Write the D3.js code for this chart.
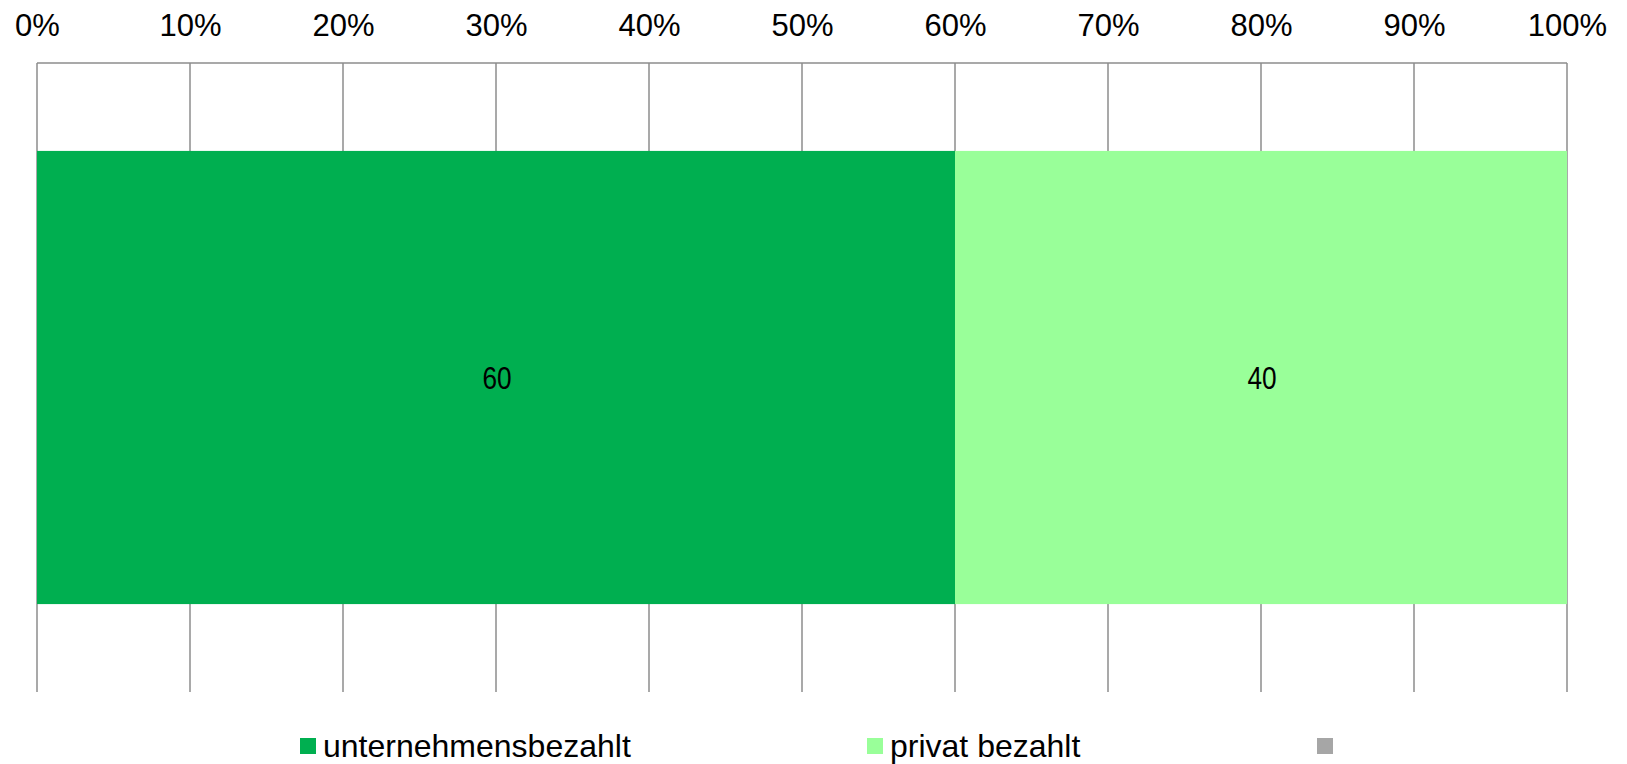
<!DOCTYPE html>
<html>
<head>
<meta charset="utf-8">
<script src="https://cdn.jsdelivr.net/npm/d3@7"></script>
<style>
  html, body { margin: 0; padding: 0; background: #ffffff; }
  svg { display: block; }
</style>
</head>
<body>
<svg id="chart" width="1627" height="764"></svg>
<script>
// ---- data ----
const categories = ["Gesamt"];
const seriesNames = ["unternehmensbezahlt", "privat bezahlt", ""];
const seriesValues = [60, 40, 0];
const seriesColors = ["#00AF50", "#99FF99", "#A6A6A6"];
const tickValues = [0, 10, 20, 30, 40, 50, 60, 70, 80, 90, 100];
const tickLabels = ["0%", "10%", "20%", "30%", "40%", "50%", "60%", "70%", "80%", "90%", "100%"];

// ---- layout ----
const W = 1627, H = 764;
const plot = { left: 37, right: 1567, top: 63, bottom: 692 };
const legendX = [300, 867, 1317];
const legendY = 738;

const svg = d3.select("#chart");

const x = d3.scaleLinear().domain([0, 100]).range([plot.left, plot.right]);
const y = d3.scaleBand().domain(categories).range([plot.top, plot.bottom])
  .paddingInner(0).paddingOuter(0.194);

// gridlines
const gridColor = "#8C8C8C";
svg.append("g").selectAll("line").data(tickValues).join("line")
  .attr("x1", d => x(d)).attr("x2", d => x(d))
  .attr("y1", plot.top).attr("y2", plot.bottom)
  .attr("stroke", gridColor).attr("stroke-width", 1.5);
svg.append("line")
  .attr("x1", x(0)).attr("x2", x(100))
  .attr("y1", plot.top).attr("y2", plot.top)
  .attr("stroke", gridColor).attr("stroke-width", 1.5);

// stacked data
const stackData = categories.map(c => {
  const row = { cat: c };
  seriesNames.forEach((s, i) => row["s" + i] = seriesValues[i]);
  return row;
});
const keys = seriesNames.map((s, i) => "s" + i);
const stacked = d3.stack().keys(keys)(stackData);

const groups = svg.append("g").selectAll("g").data(stacked).join("g")
  .attr("fill", (d, i) => seriesColors[i]);
groups.selectAll("rect").data(d => d).join("rect")
  .attr("x", d => x(d[0]))
  .attr("width", d => x(d[1]) - x(d[0]))
  .attr("y", d => y(d.data.cat))
  .attr("height", y.bandwidth());

// data labels (narrow face emulated with horizontal scale)
stacked.forEach((layer, i) => {
  layer.forEach(d => {
    const v = d[1] - d[0];
    if (v <= 0) return;
    const cx = (x(d[0]) + x(d[1])) / 2;
    const cy = y(d.data.cat) + y.bandwidth() / 2;
    svg.append("text")
      .attr("transform", `translate(${cx + 1}, ${cy}) scale(0.82, 1)`)
      .attr("dy", "0.36em")
      .attr("text-anchor", "middle")
      .attr("font-family", "'Liberation Sans', Arial, sans-serif")
      .attr("font-size", 32)
      .attr("fill", "#000")
      .text(v);
  });
});

// top axis
const axis = d3.axisTop(x).tickValues(tickValues)
  .tickFormat((d, i) => tickLabels[i]).tickSize(0).tickPadding(0);
const ag = svg.append("g").attr("transform", `translate(0, 36)`).call(axis);
ag.select(".domain").remove();
ag.selectAll("text")
  .attr("font-family", "'Liberation Sans', Arial, sans-serif")
  .attr("font-size", 31)
  .attr("fill", "#000")
  .attr("dy", 0);

// legend
const lg = svg.append("g").selectAll("g").data(seriesNames).join("g")
  .attr("transform", (d, i) => `translate(${legendX[i]}, ${legendY})`);
lg.append("rect").attr("width", 16).attr("height", 16)
  .attr("fill", (d, i) => seriesColors[i]);
lg.append("text").attr("x", 23).attr("y", 19)
  .attr("font-family", "'Liberation Sans', Arial, sans-serif")
  .attr("font-size", 32)
  .attr("fill", "#000")
  .text(d => d);
</script>
</body>
</html>
